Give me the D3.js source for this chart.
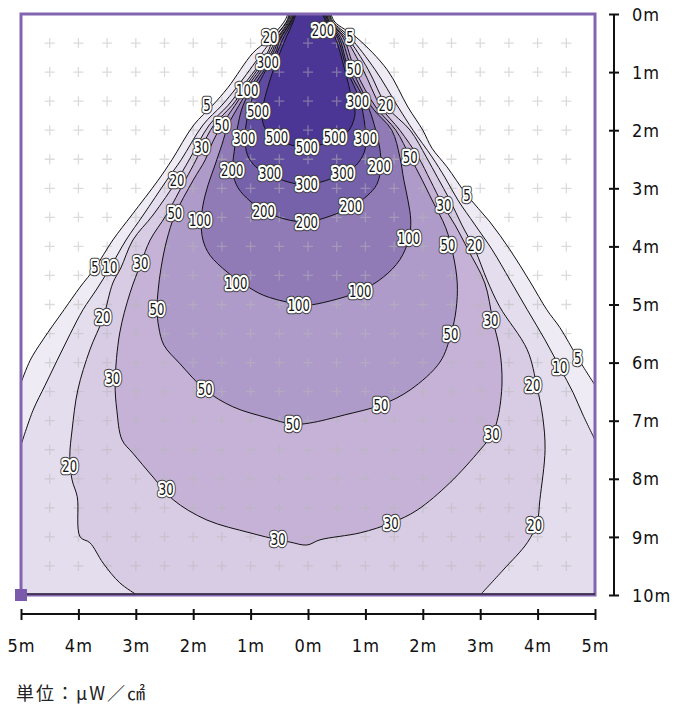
<!DOCTYPE html>
<html><head><meta charset="utf-8">
<script src="https://cdn.jsdelivr.net/npm/d3@7"></script>
<style>
body{margin:0;background:#fff;}
svg{display:block;}
</style></head><body>
<svg id="chart" width="674" height="707"></svg>
<script>
// ---- data (metres; x: horizontal offset, y: distance below lamp) ----
const levels = [5, 10, 20, 30, 50, 100, 200, 300, 500];
const xTicks = [-5, -4, -3, -2, -1, 0, 1, 2, 3, 4, 5];
const yTicks = [0, 1, 2, 3, 4, 5, 6, 7, 8, 9, 10];
const unitLabel = "単位：μW／㎠";

const c5Left = [[-0.35,0],[-0.42,0.14],[-0.70,0.45],[-0.96,0.67],[-1.39,1.26],[-1.66,1.57],[-1.99,1.91],[-2.37,2.51],[-2.61,2.86],[-3.07,3.46],[-3.40,3.89],[-3.71,4.37],[-3.97,4.70],[-4.25,5.09],[-4.62,5.61],[-4.84,5.96],[-5.00,6.35]];
const c5Right = [[5.00,6.39],[4.70,5.92],[4.39,5.40],[4.16,5.09],[3.87,4.61],[3.52,4.06],[3.17,3.58],[2.77,3.12],[2.42,2.63],[2.16,2.31],[2.00,2.00],[1.74,1.60],[1.38,0.96],[0.84,0.40],[0.47,0.14],[0.40,0]];
const c10Left = [[-0.33,0],[-0.38,0.14],[-0.63,0.45],[-0.80,0.67],[-1.24,1.26],[-1.50,1.57],[-1.83,1.91],[-2.21,2.51],[-2.46,2.86],[-2.87,3.46],[-3.17,3.89],[-3.45,4.37],[-3.69,4.75],[-3.92,5.09],[-4.15,5.52],[-4.37,5.96],[-4.58,6.39],[-4.79,6.82],[-5.00,7.42]];
const c10Right = [[5.00,7.33],[4.79,6.90],[4.62,6.52],[4.39,6.09],[4.13,5.61],[3.82,5.09],[3.52,4.58],[3.21,4.06],[2.91,3.63],[2.61,3.20],[2.39,2.82],[2.16,2.46],[1.83,2.00],[1.57,1.60],[1.17,0.96],[0.73,0.40],[0.44,0.14],[0.38,0]];
const c20Left = [[-0.31,0],[-0.37,0.14],[-0.61,0.45],[-0.71,0.67],[-1.15,1.26],[-1.39,1.57],[-1.72,1.91],[-2.07,2.51],[-2.28,2.86],[-2.70,3.46],[-3.05,3.89],[-3.26,4.37],[-3.40,4.63],[-3.57,5.23],[-3.80,5.78],[-4.01,6.47],[-4.11,7.16],[-4.15,7.62],[-4.11,8.02],[-4.02,8.31],[-3.97,9.00],[-3.80,9.10],[-3.57,9.45],[-3.28,9.79],[-2.98,10]];
const c20Right = [[3.00,10],[3.40,9.57],[3.82,9.10],[3.99,8.76],[4.04,8.36],[4.13,7.50],[4.09,6.94],[3.99,6.42],[3.82,5.78],[3.34,5.04],[3.12,4.58],[2.91,4.06],[2.68,3.63],[2.47,3.20],[2.26,2.82],[2.06,2.46],[1.78,2.00],[1.38,1.60],[1.05,0.96],[0.68,0.40],[0.42,0.14],[0.37,0]];
const c30 = [[-0.30,0],[-0.35,0.14],[-0.56,0.45],[-0.68,0.67],[-1.10,1.26],[-1.32,1.57],[-1.64,1.91],[-1.85,2.29],[-1.95,2.51],[-2.14,2.86],[-2.47,3.46],[-2.75,3.89],[-2.91,4.29],[-3.10,4.80],[-3.28,5.49],[-3.36,6.35],[-3.33,6.82],[-3.24,7.33],[-3.05,7.56],[-2.70,7.97],[-2.35,8.36],[-1.76,8.71],[-1.01,8.93],[-0.52,9.05],[-0.31,9.09],[-0.02,9.14],[0.21,9.05],[0.91,8.93],[1.45,8.76],[1.90,8.54],[2.47,8.07],[3.00,7.50],[3.21,7.23],[3.31,6.94],[3.38,6.35],[3.34,5.78],[3.22,5.27],[3.08,4.63],[2.79,4.06],[2.56,3.63],[2.35,3.29],[2.13,2.86],[1.92,2.46],[1.60,2.00],[1.27,1.60],[0.96,0.96],[0.64,0.40],[0.40,0.14],[0.35,0]];
const c50 = [[-0.28,0],[-0.33,0.14],[-0.54,0.45],[-0.64,0.67],[-1.06,1.26],[-1.27,1.57],[-1.50,1.91],[-1.66,2.20],[-1.79,2.51],[-2.00,2.86],[-2.32,3.46],[-2.46,3.89],[-2.56,4.37],[-2.61,4.75],[-2.63,5.08],[-2.60,5.39],[-2.51,5.70],[-2.23,6.02],[-1.79,6.47],[-1.31,6.76],[-0.71,6.95],[-0.26,7.06],[0.03,7.04],[0.64,6.90],[1.27,6.73],[1.78,6.47],[2.30,5.99],[2.49,5.51],[2.58,5.09],[2.60,4.63],[2.53,4.15],[2.40,3.68],[2.16,3.20],[1.99,2.86],[1.78,2.46],[1.53,2.00],[1.18,1.60],[0.82,0.96],[0.61,0.40],[0.38,0.14],[0.33,0]];
const c100 = [[-0.26,0],[-0.31,0.14],[-0.51,0.45],[-0.61,0.67],[-1.01,1.26],[-1.20,1.57],[-1.39,1.91],[-1.50,2.25],[-1.62,2.60],[-1.74,2.94],[-1.83,3.29],[-1.86,3.58],[-1.83,3.89],[-1.71,4.15],[-1.41,4.44],[-1.10,4.66],[-0.78,4.84],[-0.31,4.97],[-0.02,5.01],[0.38,4.94],[0.91,4.77],[1.31,4.53],[1.60,4.23],[1.76,3.86],[1.79,3.55],[1.74,3.20],[1.67,2.86],[1.60,2.46],[1.46,2.00],[1.11,1.60],[0.77,0.96],[0.57,0.40],[0.37,0.14],[0.31,0]];
const c200 = [[-0.24,0],[-0.30,0.14],[-0.49,0.45],[-0.57,0.67],[-0.96,1.26],[-1.13,1.57],[-1.22,1.91],[-1.27,2.25],[-1.31,2.72],[-1.22,2.99],[-1.01,3.22],[-0.77,3.39],[-0.40,3.53],[-0.02,3.58],[0.38,3.48],[0.75,3.32],[1.03,3.13],[1.20,2.93],[1.27,2.62],[1.25,2.31],[1.18,2.00],[1.05,1.60],[0.71,0.96],[0.54,0.40],[0.35,0.14],[0.30,0]];
const c300 = [[-0.23,0],[-0.28,0.14],[-0.45,0.45],[-0.54,0.67],[-0.66,0.84],[-0.89,1.26],[-1.01,1.57],[-1.08,1.91],[-1.10,2.15],[-1.05,2.44],[-0.91,2.63],[-0.66,2.77],[-0.35,2.89],[-0.02,2.94],[0.30,2.87],[0.61,2.75],[0.84,2.60],[0.98,2.38],[1.01,2.15],[0.99,1.91],[0.91,1.50],[0.68,0.96],[0.51,0.40],[0.33,0.14],[0.28,0]];
const c500 = [[-0.21,0],[-0.26,0.14],[-0.40,0.45],[-0.49,0.67],[-0.56,0.84],[-0.70,1.26],[-0.78,1.57],[-0.80,1.79],[-0.73,2.00],[-0.54,2.13],[-0.31,2.25],[-0.02,2.29],[0.26,2.24],[0.56,2.12],[0.73,1.98],[0.82,1.70],[0.77,1.48],[0.64,0.96],[0.47,0.40],[0.31,0.14],[0.26,0]];

// labels: [level, x, y]
const contourLabels = [
 [20,-0.66,0.41],[200,0.26,0.29],[5,0.73,0.40],[300,-0.70,0.84],[50,0.80,0.95],
 [100,-1.06,1.31],[300,0.87,1.50],[20,1.36,1.58],[5,-1.76,1.57],[500,-0.87,1.67],
 [50,-1.50,1.91],[300,-1.11,2.15],[500,-0.54,2.13],[500,-0.02,2.29],[500,0.47,2.13],
 [300,1.01,2.15],[30,-1.85,2.29],[200,1.25,2.62],[50,1.78,2.46],[200,-1.32,2.69],
 [300,-0.66,2.75],[300,-0.02,2.94],[300,0.61,2.74],[20,-2.28,2.86],[5,2.77,3.12],
 [30,2.37,3.29],[200,-0.77,3.39],[200,-0.02,3.58],[200,0.75,3.32],[50,-2.32,3.44],
 [100,-1.88,3.56],[100,1.76,3.86],[50,2.44,3.98],[20,2.91,3.99],[5,-3.71,4.37],
 [10,-3.45,4.37],[30,-2.91,4.29],[100,-1.25,4.63],[100,-0.16,5.01],[100,0.91,4.77],
 [20,-3.57,5.23],[50,-2.63,5.08],[30,3.19,5.27],[50,2.49,5.51],[5,4.70,5.92],
 [10,4.39,6.09],[20,3.92,6.40],[30,-3.40,6.28],[50,-1.79,6.47],[50,1.27,6.73],
 [50,-0.26,7.06],[30,3.21,7.23],[20,-4.15,7.78],[30,-2.47,8.19],[30,1.45,8.76],
 [30,-0.52,9.05],[20,3.95,8.80]
];

// ---- styling ----
const fillColors = {5:"#efebf5",10:"#e4ddee",20:"#d8cce4",30:"#c5b2d6",50:"#ae9bc9",100:"#907bb7",200:"#7662aa",300:"#5f4ba0",500:"#4b3695"};
const narrow = "'DejaVu Sans Condensed','Liberation Sans Narrow',sans-serif";

const svg = d3.select("#chart");
const x = d3.scaleLinear().domain([-5, 5]).range([21, 595]);
const y = d3.scaleLinear().domain([0, 10]).range([14, 595]);

const [x0, x1] = x.domain(), [y0, y1] = y.domain();
const contours = [
  {level:5, segs:[c5Left, c5Right], via:[[x0,y1],[x1,y1]]},
  {level:10, segs:[c10Left, c10Right], via:[[x0,y1],[x1,y1]]},
  {level:20, segs:[c20Left, c20Right], via:[]},
  {level:30, segs:[c30], via:[]},
  {level:50, segs:[c50], via:[]},
  {level:100, segs:[c100], via:[]},
  {level:200, segs:[c200], via:[]},
  {level:300, segs:[c300], via:[]},
  {level:500, segs:[c500], via:[]}
];

const lineGen = d3.line().x(d => x(d[0])).y(d => y(d[1])).curve(d3.curveCatmullRom.alpha(0.5));
function fillPath(c) {
  let p = lineGen(c.segs[0]);
  c.via.forEach(v => { p += "L" + x(v[0]) + "," + y(v[1]); });
  for (let i = 1; i < c.segs.length; i++) p += "L" + lineGen(c.segs[i]).slice(1);
  return p + "Z";
}

svg.append("defs").append("clipPath").attr("id", "plotclip")
  .append("rect").attr("x", x(x0)).attr("y", y(y0)).attr("width", x(x1) - x(x0)).attr("height", y(y1) - y(y0));

const plot = svg.append("g").attr("clip-path", "url(#plotclip)");
plot.append("rect").attr("x", x(x0)).attr("y", y(y0)).attr("width", x(x1) - x(x0)).attr("height", y(y1) - y(y0)).attr("fill", "#fff");

plot.selectAll("path.fill").data(contours).join("path")
  .attr("class", "fill").attr("d", fillPath).attr("fill", d => fillColors[d.level]).attr("stroke", "none");

// grid of plus marks every 0.5 m
const gx = d3.range(-4.5, 4.51, 0.5), gy = d3.range(0.5, 9.51, 0.5);
const crosses = [];
gx.forEach(a => gy.forEach(b => crosses.push([a, b])));
plot.append("g").selectAll("path").data(crosses).join("path")
  .attr("d", d => `M${x(d[0]) - 5},${y(d[1])}h10M${x(d[0])},${y(d[1]) - 5}v10`)
  .attr("stroke", "#b8b8b8").attr("stroke-opacity", 0.5).attr("stroke-width", 1.3).attr("fill", "none");

// contour lines
const segList = [];
contours.forEach(c => c.segs.forEach(s => segList.push(s)));
plot.append("g").selectAll("path").data(segList).join("path")
  .attr("d", lineGen).attr("fill", "none").attr("stroke", "#111").attr("stroke-width", 1);

// border
svg.append("rect").attr("x", x(x0)).attr("y", y(y0)).attr("width", x(x1) - x(x0)).attr("height", y(y1) - y(y0))
  .attr("fill", "none").attr("stroke", "#8264b0").attr("stroke-width", 3);
svg.append("line").attr("x1", x(x0)).attr("x2", x(x1)).attr("y1", y(y1) - 1).attr("y2", y(y1) - 1)
  .attr("stroke", "#2b2433").attr("stroke-width", 1.6);
svg.append("rect").attr("x", x(x0) - 6).attr("y", y(y1) - 6).attr("width", 12).attr("height", 12).attr("fill", "#7b5aab");

// contour labels
const lab = svg.append("g").attr("font-family", narrow).attr("font-size", 15.5).attr("text-anchor", "middle");
const labSel = lab.selectAll("g").data(contourLabels).join("g")
  .attr("transform", d => `translate(${x(d[1])},${y(d[2])}) scale(0.84,1)`);
labSel.append("text").attr("dy", "0.36em").text(d => d[0])
  .attr("fill", "none").attr("stroke", "#3a3a3a").attr("stroke-width", 6.5).attr("stroke-linejoin", "round");
labSel.append("text").attr("dy", "0.36em").text(d => d[0])
  .attr("fill", "none").attr("stroke", "#fff").attr("stroke-width", 4.4).attr("stroke-linejoin", "round");
labSel.append("text").attr("dy", "0.36em").text(d => d[0]).attr("fill", "#111");

// axes
const axR = svg.append("g").attr("transform", "translate(614,0)")
  .call(d3.axisRight(y).tickValues(yTicks).tickFormat(d => d + "m").tickSize(5).tickPadding(0));
axR.select(".domain").attr("stroke", "#111").attr("stroke-width", 2).attr("d", `M0,${y(y0)}V${y(y1)}`);
axR.selectAll(".tick line").attr("x1", -5).attr("x2", 5).attr("stroke", "#111").attr("stroke-width", 2);
axR.selectAll(".tick text").attr("x", 18).attr("dy", "0.34em").attr("fill", "#111")
  .attr("font-family", narrow).attr("font-size", 18).attr("letter-spacing", 1).attr("text-anchor", "start");

const axB = svg.append("g").attr("transform", "translate(0,614)")
  .call(d3.axisBottom(x).tickValues(xTicks).tickFormat(d => Math.abs(d) + "m").tickSize(5).tickPadding(0));
axB.select(".domain").attr("stroke", "#111").attr("stroke-width", 2).attr("d", `M${x(x0)},0H${x(x1)}`);
axB.selectAll(".tick line").attr("y1", -5).attr("y2", 6).attr("stroke", "#111").attr("stroke-width", 2);
axB.selectAll(".tick text").attr("y", 38).attr("dy", null).attr("fill", "#111")
  .attr("font-family", narrow).attr("font-size", 18).attr("letter-spacing", 1);

svg.append("text").attr("x", 16).attr("y", 700).text(unitLabel)
  .attr("font-family", "'Noto Sans CJK JP',sans-serif").attr("font-size", 18).attr("letter-spacing", 2).attr("fill", "#222");
</script>
</body></html>
